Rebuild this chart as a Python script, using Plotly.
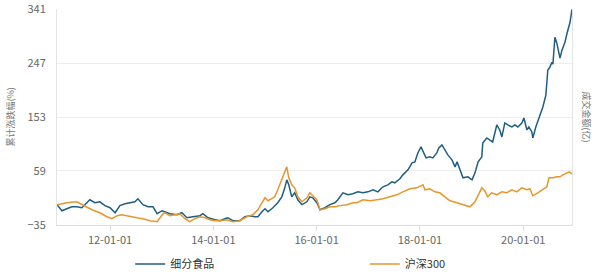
import plotly.graph_objects as go

# ---------------- data ----------------
food_dates = [
    "2010-12-22", "2011-01-26", "2011-03-01", "2011-04-06", "2011-05-11", "2011-06-16",
    "2011-07-21", "2011-08-11", "2011-09-16", "2011-10-21", "2011-11-26", "2012-01-01",
    "2012-02-06", "2012-03-11", "2012-04-16", "2012-05-21", "2012-06-25", "2012-07-16",
    "2012-08-21", "2012-09-26", "2012-10-31", "2012-11-29", "2013-01-03", "2013-02-28",
    "2013-04-18", "2013-05-23", "2013-06-28", "2013-08-09", "2013-09-28", "2013-10-19",
    "2013-11-24", "2014-01-13", "2014-02-17", "2014-03-23", "2014-04-13", "2014-05-18",
    "2014-07-07", "2014-08-12", "2014-09-16", "2014-10-21", "2014-11-12", "2014-12-10",
    "2015-01-01", "2015-01-22", "2015-02-26", "2015-04-01", "2015-04-30", "2015-05-21",
    "2015-06-04", "2015-06-18", "2015-07-09", "2015-07-30", "2015-08-21", "2015-09-19",
    "2015-10-24", "2015-11-14", "2015-12-05", "2016-01-03", "2016-01-25", "2016-02-29",
    "2016-04-04", "2016-05-09", "2016-05-30", "2016-07-05", "2016-08-10", "2016-09-14",
    "2016-10-19", "2016-11-24", "2016-12-29", "2017-02-03", "2017-03-09", "2017-04-14",
    "2017-05-19", "2017-06-16", "2017-07-07", "2017-08-12", "2017-09-02", "2017-10-08",
    "2017-11-06", "2017-11-26", "2017-12-17", "2018-01-08", "2018-01-22", "2018-02-13",
    "2018-03-11", "2018-04-02", "2018-04-30", "2018-05-14", "2018-06-05", "2018-06-26",
    "2018-07-17", "2018-08-15", "2018-09-06", "2018-09-20", "2018-10-11", "2018-11-01",
    "2018-12-06", "2019-01-04", "2019-01-25", "2019-02-16", "2019-03-14", "2019-03-21",
    "2019-04-18", "2019-05-09", "2019-05-30", "2019-06-28", "2019-07-19", "2019-08-03",
    "2019-08-24", "2019-09-14", "2019-10-13", "2019-11-03", "2019-11-24", "2019-12-22",
    "2020-01-06", "2020-01-27", "2020-02-10", "2020-03-02", "2020-03-09", "2020-03-30",
    "2020-04-20", "2020-05-19", "2020-06-09", "2020-06-23", "2020-07-08", "2020-07-22",
    "2020-07-29", "2020-08-12", "2020-08-26", "2020-09-03", "2020-09-17", "2020-10-01",
    "2020-10-22", "2020-11-06", "2020-11-13", "2020-11-27", "2020-12-11",
]
food_values = [
    0, -10.6, -7.1, -3.7, -3.7, -5.4,
    3.3, 8.5, 3.3, 5.0, -1.7, -5.4,
    -14.1, -1.7, 1.7, 3.3, 5.0, 10.2,
    0, -3.7, -3.7, -15.8, -10.6, -15.8,
    -17.6, -14.1, -22.8, -21.1, -19.3, -15.8,
    -22.8, -26.3, -28.0, -24.5, -22.8, -28.0,
    -28.0, -21.1, -19.3, -21.1, -21.1, -12.4,
    -7.1, -12.4, -5.4, 3.3, 13.7, 29.4,
    43.3, 34.6, 13.7, 20.7, 8.5, 0,
    5.0, 13.7, 12.0, 3.3, -8.9, -5.4,
    0, 3.3, 8.5, 20.7, 17.2, 19.0,
    22.4, 20.7, 22.4, 25.9, 22.4, 31.2,
    34.6, 39.9, 38.1, 45.1, 52.0, 60.7,
    72.9, 74.7, 90.3, 100.8, 92.1, 81.6,
    83.4, 81.6, 90.3, 99.0, 104.3, 95.6,
    86.9, 78.2, 66.0, 74.7, 60.7, 46.8,
    48.6, 43.3, 55.5, 74.7, 83.4, 107.7,
    116.4, 113.0, 109.5, 139.1, 130.4, 118.2,
    142.6, 139.1, 135.6, 139.1, 135.6, 142.6,
    151.3, 130.4, 135.6, 126.9, 116.4, 135.6,
    151.3, 170.4, 191.0, 235.0, 240.0, 248.7,
    245.3, 292.3, 281.8, 269.6, 255.7, 269.6,
    283.6, 299.2, 304.4, 318.4, 341.0,
]

hs300_dates = [
    "2010-12-22", "2011-03-01", "2011-05-11", "2011-06-16", "2011-07-21", "2011-08-26",
    "2011-10-21", "2011-12-10", "2012-01-15", "2012-02-20", "2012-03-25", "2012-05-21",
    "2012-07-09", "2012-08-21", "2012-10-10", "2012-11-29", "2013-01-10", "2013-01-24",
    "2013-02-28", "2013-04-04", "2013-05-09", "2013-06-14", "2013-07-19", "2013-08-23",
    "2013-09-28", "2013-11-03", "2013-12-08", "2014-01-13", "2014-02-17", "2014-04-06",
    "2014-05-18", "2014-07-07", "2014-08-26", "2014-10-07", "2014-11-12", "2014-12-10",
    "2015-01-01", "2015-01-22", "2015-02-05", "2015-03-11", "2015-04-01", "2015-04-30",
    "2015-05-21", "2015-06-04", "2015-06-18", "2015-07-09", "2015-07-30", "2015-08-21",
    "2015-09-19", "2015-10-24", "2015-11-14", "2015-12-05", "2016-01-03", "2016-01-25",
    "2016-02-29", "2016-04-04", "2016-05-09", "2016-06-14", "2016-08-02", "2016-09-14",
    "2016-10-12", "2016-11-24", "2017-01-13", "2017-03-02", "2017-04-14", "2017-06-02",
    "2017-07-21", "2017-09-02", "2017-10-22", "2017-12-10", "2018-01-22", "2018-02-05",
    "2018-03-11", "2018-04-16", "2018-05-21", "2018-06-26", "2018-08-01", "2018-09-20",
    "2018-11-01", "2018-12-20", "2019-01-25", "2019-02-16", "2019-03-14", "2019-04-04",
    "2019-04-25", "2019-05-23", "2019-06-28", "2019-08-03", "2019-09-07", "2019-10-13",
    "2019-11-17", "2019-12-22", "2020-01-27", "2020-02-17", "2020-03-09", "2020-04-13",
    "2020-05-19", "2020-06-16", "2020-07-01", "2020-07-29", "2020-08-26", "2020-09-17",
    "2020-10-08", "2020-11-06", "2020-11-20", "2020-12-11",
]
hs300_values = [
    0, 3.3, 5.0, 0, -3.7, -8.9,
    -14.1, -21.1, -24.5, -19.3, -17.6, -21.1,
    -22.8, -24.5, -28.0, -29.8, -15.8, -14.1,
    -19.3, -17.6, -15.8, -24.5, -29.8, -24.5,
    -21.1, -22.8, -26.3, -28.0, -28.0, -26.3,
    -29.8, -28.0, -21.1, -17.6, -8.9, 3.3,
    12.0, 6.8, 8.5, 13.7, 25.9, 43.3,
    55.5, 66.0, 46.8, 34.6, 29.4, 13.7,
    5.0, 12.0, 20.7, 15.5, 8.5, -8.9,
    -7.1, -3.7, -3.7, -1.7, 0, 3.3,
    3.3, 8.5, 6.8, 8.5, 10.2, 13.7,
    17.2, 22.4, 27.7, 29.4, 34.6, 25.9,
    27.7, 22.4, 20.7, 13.7, 6.8, 3.3,
    0, -3.7, 5.0, 17.2, 29.4, 24.2,
    13.7, 20.7, 17.2, 22.4, 20.7, 25.9,
    22.4, 29.4, 25.9, 27.7, 15.5, 20.7,
    25.9, 31.2, 46.8, 46.8, 48.6, 48.6,
    52.0, 55.5, 57.3, 53.8,
]

y_ticks = [-35, 59, 153, 247, 341]
x_tick_dates = ["2012-01-01", "2014-01-01", "2016-01-01", "2018-01-01", "2020-01-01"]
x_tick_labels = ["12-01-01", "14-01-01", "16-01-01", "18-01-01", "20-01-01"]

series_names = ["细分食品", "沪深300"]
series_colors = ["#1f5f80", "#e8962c"]

# ---------------- figure ----------------
FONT = "Noto Sans CJK SC"
fig = go.Figure()
fig.add_trace(go.Scatter(x=food_dates, y=food_values, mode="lines", name=series_names[0],
                         line=dict(color=series_colors[0], width=1.5), legend="legend"))
fig.add_trace(go.Scatter(x=hs300_dates, y=hs300_values, mode="lines", name=series_names[1],
                         line=dict(color=series_colors[1], width=1.5), legend="legend2"))

legend_common = dict(orientation="h", xref="container", xanchor="left",
                     yref="container", y=0.05, yanchor="middle", itemwidth=30,
                     font=dict(family=FONT, size=11, color="#333333"),
                     bgcolor="rgba(0,0,0,0)")

fig.update_layout(
    width=600, height=278,
    margin=dict(l=57, r=28, t=9, b=53, autoexpand=False),
    paper_bgcolor="white", plot_bgcolor="white",
    font=dict(family=FONT, size=11, color="#666666"),
    showlegend=True,
    legend=dict(x=0.217, **legend_common),
    legend2=dict(x=0.608, **legend_common),
    xaxis=dict(type="date", range=["2010-12-22", "2020-12-11"],
               tickvals=x_tick_dates, ticktext=x_tick_labels,
               showgrid=False, showline=True, linecolor="#dddddd", linewidth=1,
               ticks="outside", ticklen=5, tickcolor="#dddddd",
               tickfont=dict(size=11, color="#666666"), zeroline=False),
    yaxis=dict(range=[-35.5, 341.5], tickvals=y_ticks,
               showgrid=True, gridcolor="#eeeeee", gridwidth=1,
               showline=True, linecolor="#e4e4e4", mirror=True, ticks="",
               ticklabelstandoff=8,
               tickfont=dict(size=11, color="#666666"), zeroline=False),
    annotations=[
        dict(text="累计涨跌幅(%)", xref="paper", yref="paper", x=-0.092, y=0.5,
             xanchor="center", yanchor="middle", textangle=-90, showarrow=False,
             font=dict(family=FONT, size=9, color="#777777")),
        dict(text="成交金额(亿)", xref="paper", yref="paper", x=1.03, y=0.5,
             xanchor="center", yanchor="middle", textangle=90, showarrow=False,
             font=dict(family=FONT, size=9, color="#777777")),
    ],
)

fig.write_html("out.html")
